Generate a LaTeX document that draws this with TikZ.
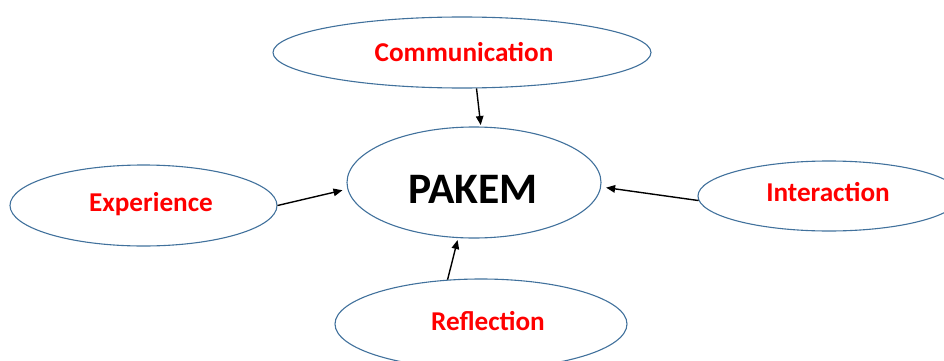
\documentclass[tikz,border=0pt]{standalone}
\usepackage{fontspec}
\setmainfont{Carlito}
\usetikzlibrary{shapes.geometric,arrows.meta}
\definecolor{ringblue}{HTML}{41719C}
\definecolor{labelred}{HTML}{FF0000}
\tikzset{
  ring/.style={draw=ringblue, line width=1.1pt, ellipse, inner sep=0pt},
  lbl/.style={anchor=base, inner sep=0pt, text=labelred, font=\fontsize{27.2}{31}\selectfont\bfseries},
  arr/.style={draw=black, line width=1.4pt, -{Triangle[length=9pt,width=7.5pt]}}
}
\begin{document}
\begin{tikzpicture}[x=1pt,y=-1pt]
\useasboundingbox (0,0) rectangle (944,361);
\clip (0,0) rectangle (944,361);
\node[ring, minimum width=378pt, minimum height=71pt] (comm) at (462,52.5) {};
\node[ring, minimum width=254pt, minimum height=111pt] (pakem) at (474,182.5) {};
\node[ring, minimum width=267pt, minimum height=81pt] (exp) at (143.5,205.5) {};
\node[ring, minimum width=262pt, minimum height=70pt] (int) at (829,196) {};
\node[ring, minimum width=292pt, minimum height=90pt] (refl) at (481,324) {};
\node[lbl] (tcomm) at (464,61) {Communication};
\node[lbl] (texp) at (151,211.5) {Experience};
\node[lbl] (tint) at (828,201.5) {Interaction};
\node[lbl] (trefl) at (488,330) {Reflection};
\node[anchor=base, inner sep=0pt, font=\fontsize{43.5}{50}\selectfont\bfseries] (tpakem) at (473,203.5) {PAKEM};
\draw[arr, shorten >=1.5pt] (comm.-68.5) -- (pakem.83);
\draw[arr, shorten >=5pt] (exp.0) -- (pakem.183.7);
\draw[arr, shorten >=5pt] (int.182) -- (pakem.-2.8);
\draw[arr, shorten >=2pt] (refl.127.5) -- (pakem.-106.5);
\end{tikzpicture}
\end{document}
